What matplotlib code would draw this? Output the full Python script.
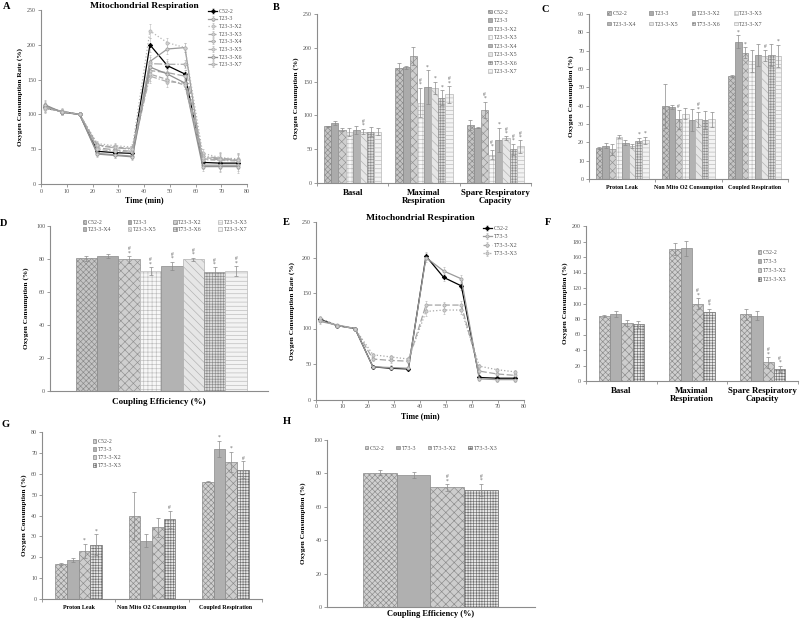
import numpy as np
import matplotlib
matplotlib.use("Agg")
import matplotlib.pyplot as plt

plt.rcParams['font.family'] = ['Liberation Serif', 'DejaVu Serif']
plt.rcParams['hatch.linewidth'] = 0.45

# ---------------- data ----------------
time_min = [1.4, 8.2, 15, 21.9, 28.7, 35.5, 42.3, 49.1, 55.9, 62.8, 69.6, 76.4]

a_names = ['C52-2', 'T23-3', 'T23-3-X2', 'T23-3-X3', 'T23-3-X4', 'T23-3-X5', 'T23-3-X6', 'T23-3-X7']
a_c52 = [110, 104, 100, 47, 45, 44, 200, 170, 158, 31, 30, 30]
a_t23 = [112, 103, 100, 44, 42, 40, 176, 194, 196, 27, 27, 27]
a_x2 = [108, 105, 100, 58, 55, 53, 220, 203, 196, 44, 38, 36]
a_x3 = [111, 104, 100, 55, 52, 50, 173, 172, 172, 40, 37, 35]
a_x4 = [113, 103, 100, 52, 49, 47, 163, 160, 155, 36, 35, 34]
a_x5 = [110, 104, 100, 50, 47, 46, 155, 147, 145, 35, 34, 33]
a_x6 = [114, 103, 100, 43, 41, 39, 168, 158, 145, 25, 25, 25]
a_x7 = [109, 104, 100, 56, 53, 51, 158, 150, 142, 38, 36, 34]
a_err = [6, 4, 0, 4, 4, 4, 10, 7, 6, 6, 8, 9]

e_names = ['C52-2', 'T73-3', 'T73-3-X2', 'T73-3-X3']
e_c52 = [113, 104, 100, 46, 44, 43, 202, 172, 160, 31, 30, 30]
e_t73 = [110, 105, 100, 46, 45, 44, 200, 181, 170, 29, 28, 28]
e_x2 = [112, 104, 100, 57, 55, 54, 133, 133, 133, 40, 36, 34]
e_x3 = [115, 104, 100, 63, 60, 57, 124, 126, 126, 47, 42, 39]
e_err = [3, 2, 0, 3, 3, 3, 6, 5, 6, 3, 3, 3]

b_groups = ['Basal', 'Maximal\nRespiration', 'Spare Respiratory\nCapacity']
b_names = ['C52-2', 'T23-3', 'T23-3-X2', 'T23-3-X3', 'T23-3-X4', 'T23-3-X5', 'T73-3-X6', 'T23-3-X7']
b_vals = [[84, 170, 86], [89, 171, 82], [79, 188, 108], [76, 119, 42],
          [79, 142, 64], [76, 141, 66], [76, 126, 50], [76, 131, 54]]
b_errs = [[1, 7, 7], [3, 2, 1], [2, 13, 12], [6, 22, 7],
          [6, 25, 18], [4, 9, 3], [7, 11, 8], [5, 12, 9]]
b_marks = [['', '', ''], ['', '', ''], ['', '', '#\n*'], ['', '#\n*', '#\n*'],
           ['', '*', '*'], ['#\n*', '*', '#\n*'], ['', '*', '#\n*'], ['', '#\n*', '#\n*']]

c_groups = ['Proton Leak', 'Non Mito O2 Consumption', 'Coupled Respiration']
c_names = ['C52-2', 'T23-3', 'T23-3-X2', 'T23-3-X3', 'T23-3-X4', 'T23-3-X5', 'T73-3-X6', 'T23-3-X7']
c_vals = [[16.7, 39.6, 56.2], [18.2, 39.1, 75.0], [16.2, 32.5, 68.9], [23.1, 35.6, 64.2],
          [19.8, 32.2, 67.5], [18.0, 32.5, 67.3], [20.9, 32.2, 67.5], [21.1, 32.5, 67.3]]
c_errs = [[0.5, 12, 0.4], [1.5, 1, 3.5], [3, 5, 3], [1, 3, 6],
          [1.5, 6, 6], [1, 4, 3], [1.5, 5, 6], [2, 4, 6]]
c_marks = [['', '', ''], ['', '', '*'], ['', '#', '*'], ['', '', ''],
           ['', '', ''], ['', '#\n*', '#'], ['*', '', ''], ['*', '', '*']]

d_names = ['C52-2', 'T23-3', 'T23-3-X2', 'T23-3-X3', 'T23-3-X4', 'T23-3-X5', 'T73-3-X6', 'T23-3-X7']
d_vals = [80.5, 82.0, 79.7, 72.6, 75.9, 79.7, 72.4, 72.6]
d_errs = [1.5, 1.2, 2.0, 2.5, 2.5, 1.0, 2.5, 3.0]
d_marks = ['', '', '#\n*', '#\n*', '#\n*', '#\n*', '#\n*', '#\n*']

f_groups = ['Basal', 'Maximal\nRespiration', 'Spare Respiratory\nCapacity']
f_names = ['C52-2', 'T73-3', 'T73-3-X2', 'T23-3-X3']
f_vals = [[84, 170, 86], [86.5, 171, 84.5], [75, 100, 24], [73, 89, 16]]
f_errs = [[1, 8, 7], [4, 10, 6], [4, 7, 7], [5, 4, 4]]
f_marks = [['', '', ''], ['', '', ''], ['', '#\n*', '#\n*'], ['', '#\n*', '#\n*']]

g_groups = ['Proton Leak', 'Non Mito O2 Consumption', 'Coupled Respiration']
g_names = ['C52-2', 'T73-3', 'T73-3-X2', 'T73-3-X3']
g_vals = [[16.8, 39.8, 56.2], [18.7, 28.0, 72.0], [23.0, 34.4, 65.6], [25.9, 38.2, 61.9]]
g_errs = [[0.5, 11.5, 0.3], [0.8, 3, 3.8], [3.5, 4.5, 5], [5, 4, 4]]
g_marks = [['', '', ''], ['', '', '*'], ['*', '', '*'], ['*', '#', '#']]

h_names = ['C52-2', 'T73-3', 'T73-3-X2', 'T73-3-X3']
h_vals = [80.3, 79.2, 71.6, 70.2]
h_errs = [1.5, 1.8, 2.0, 3.5]
h_marks = ['', '', '#\n*', '#\n*']

# ---------------- styles ----------------
style8 = [('#c4c4c4', 'xxxxxx', '#8a8a8a'), ('#ababab', '', '#8a8a8a'),
          ('#cfcfcf', 'xxxx', '#909090'), ('#f7f7f7', '++++', '#bdbdbd'),
          ('#b3b3b3', '', '#8a8a8a'), ('#e6e6e6', '\\\\\\\\', '#b0b0b0'),
          ('#dcdcdc', '++++++', '#8c8c8c'), ('#f3f3f3', '----', '#b8b8b8')]
style4 = [('#d0d0d0', 'xxxxxx', '#8a8a8a'), ('#b0b0b0', '', '#8a8a8a'),
          ('#cdcdcd', 'xxxx', '#8a8a8a'), ('#e8e8e8', '++++++', '#707070')]

W, H = 800, 619
fig = plt.figure(figsize=(W / 100, H / 100), dpi=100)
TICK = 4.3


def panel(l, r, t, b):
    ax = fig.add_axes([l / W, 1 - b / H, (r - l) / W, (b - t) / H])
    for s in ['top', 'right']:
        ax.spines[s].set_visible(False)
    for s in ['left', 'bottom']:
        ax.spines[s].set_color('#8c8c8c')
        ax.spines[s].set_linewidth(0.8)
    ax.tick_params(labelsize=TICK, colors='#8c8c8c', labelcolor='#555555',
                   length=2, width=0.6, pad=1.5)
    return ax


def letter(x, y, s):
    fig.text(x / W, 1 - y / H, s, fontsize=7.5, fontweight='bold', va='top', ha='left')


def ylab(ax, s, pad=3):
    ax.set_ylabel(s, fontsize=5.2, fontweight='bold', labelpad=pad)


def bars(ax, names, vals, errs, marks, styles, ngroups, width, center=None):
    k = len(names)
    for i, name in enumerate(names):
        fc, hatch, ec = styles[i]
        if ngroups:
            xs = np.arange(ngroups) + 0.5 + (i - (k - 1) / 2) * width
        else:
            xs = np.array([center + (i - (k - 1) / 2) * width])
        v = np.atleast_1d(vals[i])
        e = np.atleast_1d(errs[i])
        m = np.atleast_1d(marks[i])
        ax.bar(xs, v, width, color=fc, hatch=hatch, edgecolor=ec, linewidth=0.5, label=name)
        ax.errorbar(xs, v, yerr=e, fmt='none', ecolor='#8a8a8a', elinewidth=0.5,
                    capsize=1.2, capthick=0.5)
        ymax = ax.get_ylim()[1]
        for x, vv, ee, mm in zip(xs, v, e, m):
            if mm:
                ax.text(x, vv + ee + ymax * 0.005, mm, ha='center', va='bottom',
                        fontsize=4, color='#666666', linespacing=0.75)


def cat_axis(ax, groups, size):
    n = len(groups)
    ax.set_xlim(0, n)
    ax.set_xticks(np.arange(n) + 0.5)
    ax.set_xticklabels(groups, fontsize=size, fontweight='bold', color='black',
                       linespacing=1.1)
    ax.tick_params(axis='x', length=0, pad=4)
    ax.set_xticks(np.arange(n + 1), minor=True)
    ax.tick_params(axis='x', which='minor', length=2, width=0.6, colors='#8c8c8c')


def small_legend(ax, rowmajor=False, **kw):
    opts = dict(fontsize=4.2, frameon=False, handlelength=0.6, handleheight=0.6,
                handletextpad=0.3, labelspacing=0.55, borderaxespad=0)
    opts.update(kw)
    handles, labels = ax.get_legend_handles_labels()
    if rowmajor:
        ncol = opts['ncol']
        nrow = int(np.ceil(len(handles) / ncol))
        order = [r * ncol + c for c in range(ncol) for r in range(nrow)
                 if r * ncol + c < len(handles)]
        handles = [handles[i] for i in order]
        labels = [labels[i] for i in order]
    lg = ax.legend(handles, labels, **opts)
    for t in lg.get_texts():
        t.set_color('#555555')
    return lg


# ---------------- A ----------------
ax = panel(41, 247, 10, 184)
a_series = [a_c52, a_t23, a_x2, a_x3, a_x4, a_x5, a_x6, a_x7]
a_ls = ['-', '-', ':', '-.', (0, (6, 2)), (0, (4, 1.5, 1, 1.5)), '-', '--']
a_col = ['black', '#9a9a9a', '#b5b5b5', '#aaaaaa', '#a5a5a5', '#b0b0b0', '#8f8f8f', '#a8a8a8']
for name, ys, ls, c in zip(a_names, a_series, a_ls, a_col):
    mk = 'D' if name == 'C52-2' else 'o'
    ax.errorbar(time_min, ys, yerr=a_err, color=c, ls=ls, lw=0.9, marker=mk, ms=2.3,
                mfc='#d0d0d0' if mk == 'o' else 'black', mec=c, mew=0.5,
                ecolor='#bbbbbb', elinewidth=0.4, capsize=0.8, label=name)
ax.set_xlim(0, 80)
ax.set_ylim(0, 250)
ax.set_xticks(range(0, 81, 10))
ax.set_yticks(range(0, 251, 50))
ax.set_xlabel('Time (min)', fontsize=5.8, fontweight='bold', labelpad=2)
ylab(ax, 'Oxygen Consumption Rate (%)')
ax.set_title('Mitochondrial Respiration', fontsize=6.8, fontweight='bold', pad=1)
small_legend(ax, loc='upper left', bbox_to_anchor=(0.8, 1.02), handlelength=1.6,
             labelspacing=0.45)
letter(3, 2, 'A')

# ---------------- B ----------------
ax = panel(317, 531, 14, 183)
ax.set_ylim(0, 250)
ax.set_yticks(range(0, 251, 50))
bars(ax, b_names, b_vals, b_errs, b_marks, style8, 3, 0.1)
cat_axis(ax, b_groups, 6.3)
ylab(ax, 'Oxygen Consumption (%)')
small_legend(ax, loc='upper left', bbox_to_anchor=(0.79, 1.04), labelspacing=0.6)
letter(273, 3, 'B')

# ---------------- C ----------------
ax = panel(589, 788, 14, 179)
ax.set_ylim(0, 90)
ax.set_yticks(range(0, 91, 10))
bars(ax, c_names, c_vals, c_errs, c_marks, style8, 3, 0.1)
cat_axis(ax, c_groups, 4.3)
ylab(ax, 'Oxygen Consumption (%)')
small_legend(ax, rowmajor=True, loc='upper left', bbox_to_anchor=(0.08, 1.03), ncol=4,
             columnspacing=2.3, labelspacing=0.9)
letter(541, 5, 'C')

# ---------------- D ----------------
ax = panel(50, 268, 226, 391)
ax.set_ylim(0, 100)
ax.set_yticks(range(0, 101, 20))
ax.set_xlim(0, 1)
bars(ax, d_names, d_vals, d_errs, d_marks, style8, 0, 0.0979, center=0.51)
ax.set_xticks([])
ax.set_xlabel('Coupling Efficiency (%)', fontsize=6.5, fontweight='bold', labelpad=5)
ylab(ax, 'Oxygen Consumption (%)', pad=5)
small_legend(ax, rowmajor=True, loc='upper left', bbox_to_anchor=(0.14, 1.05), ncol=4,
             columnspacing=2.8, labelspacing=0.3)
letter(0, 219, 'D')

# ---------------- E ----------------
ax = panel(316, 524, 222, 399.5)
e_series = [e_c52, e_t73, e_x2, e_x3]
e_ls = ['-', '-', (0, (5, 2)), ':']
e_col = ['black', '#9a9a9a', '#a5a5a5', '#a8a8a8']
for name, ys, ls, c in zip(e_names, e_series, e_ls, e_col):
    mk = 'D' if name == 'C52-2' else 'o'
    ax.errorbar(time_min, ys, yerr=e_err, color=c, ls=ls, lw=0.9, marker=mk, ms=2.3,
                mfc='#d0d0d0' if mk == 'o' else 'black', mec=c, mew=0.5,
                ecolor='#bbbbbb', elinewidth=0.4, capsize=0.8, label=name)
ax.set_xlim(0, 80)
ax.set_ylim(0, 250)
ax.set_xticks(range(0, 81, 10))
ax.set_yticks(range(0, 251, 50))
ax.set_xlabel('Time (min)', fontsize=5.8, fontweight='bold', labelpad=2)
ylab(ax, 'Oxygen Consumption Rate (%)', pad=5)
ax.set_title('Mitochondrial Respiration', fontsize=6.8, fontweight='bold', pad=1)
small_legend(ax, loc='upper left', bbox_to_anchor=(0.79, 0.99), handlelength=1.6,
             labelspacing=0.55)
letter(283, 218, 'E')

# ---------------- F ----------------
ax = panel(586, 798, 226, 381)
ax.set_ylim(0, 200)
ax.set_yticks(range(0, 201, 20))
bars(ax, f_names, f_vals, f_errs, f_marks, style4, 3, 0.16)
cat_axis(ax, f_groups, 6.3)
ylab(ax, 'Oxygen Consumption (%)')
small_legend(ax, loc='upper left', bbox_to_anchor=(0.8, 0.86), labelspacing=0.7)
letter(545, 218, 'F')

# ---------------- G ----------------
ax = panel(42, 262, 432, 599)
ax.set_ylim(0, 80)
ax.set_yticks(range(0, 81, 10))
bars(ax, g_names, g_vals, g_errs, g_marks, style4, 3, 0.16)
cat_axis(ax, g_groups, 4.3)
ylab(ax, 'Oxygen Consumption (%)')
small_legend(ax, loc='upper left', bbox_to_anchor=(0.22, 0.97), labelspacing=0.5)
letter(2, 420, 'G')

# ---------------- H ----------------
ax = panel(327, 535, 440, 607)
ax.set_ylim(0, 100)
ax.set_yticks(range(0, 101, 20))
ax.set_xlim(0, 1)
bars(ax, h_names, h_vals, h_errs, h_marks, style4, 0, 0.162, center=0.4975)
ax.set_xticks([])
ax.set_xlabel('Coupling Efficiency (%)', fontsize=6, fontweight='bold', labelpad=2)
ylab(ax, 'Oxygen Consumption (%)', pad=5)
small_legend(ax, loc='upper left', bbox_to_anchor=(0.17, 0.98), ncol=4,
             columnspacing=2.0)
letter(283, 417, 'H')

fig.savefig('out.png', dpi=100, facecolor='white')
